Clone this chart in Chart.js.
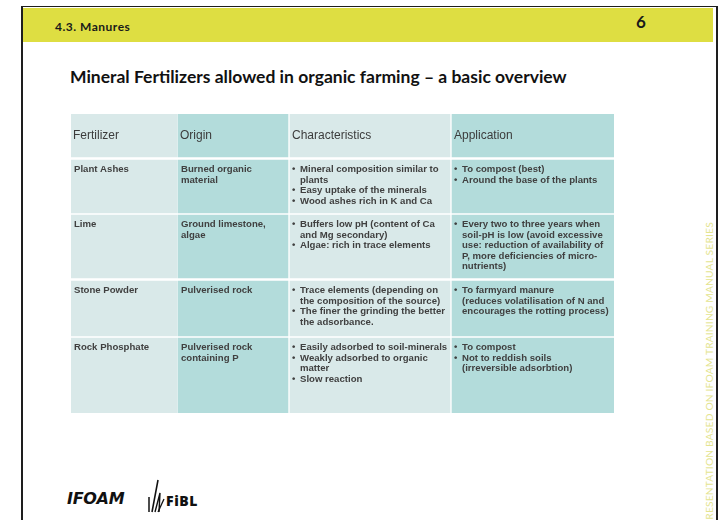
<!DOCTYPE html>
<html>
<head>
<meta charset="utf-8">
<script src="https://cdn.jsdelivr.net/npm/chart.js@4.4.1/dist/chart.umd.min.js"></script>
<style>
  body { margin: 0; width: 720px; height: 520px; background: #fff; position: relative; overflow: hidden; font-family: Lato, sans-serif; }
  .abs { position: absolute; }
  #frameLeft { left: 21px; top: 7px; width: 2px; height: 513px; background: #1e1e1e; }
  #frameTop { left: 21px; top: 6px; width: 697px; height: 1px; background: #1e1e1e; }
  #frameRight { left: 716px; top: 7px; width: 2px; height: 513px; background: #1e1e1e; }
  #band { left: 23px; top: 8px; width: 690px; height: 34px; background: #dede42; }
  #section { left: 55px; top: 19px; font-weight: 700; font-size: 12px; letter-spacing: 0.5px; color: #1a1a1a; }
  #pageNo { left: 636px; top: 11px; font-weight: 700; font-size: 17px; color: #1a1a1a; }
  #title { left: 70px; top: 66px; font-weight: 700; font-size: 17.5px; color: #111; white-space: nowrap; }
  #side { left: 703px; top: 526px; transform-origin: 0 0; transform: rotate(-90deg); font-size: 10.2px; letter-spacing: 0.2px; color: #e4e490; white-space: nowrap; line-height: 12px; }
  #ifoam { left: 67px; top: 489px; font-family: "DejaVu Sans", sans-serif; font-weight: 700; font-style: italic; font-size: 16px; letter-spacing: -0.3px; color: #111; }
  #fibl { left: 166px; top: 491px; font-family: "Open Sans", sans-serif; font-weight: 800; font-size: 14px; letter-spacing: 0.6px; color: #111; }
  #leaf { left: 147px; top: 479px; }
  #tableWrap { left: 71px; top: 114px; width: 543px; height: 299px; }
</style>
</head>
<body>
<div class="abs" id="band"></div>
<div class="abs" id="frameTop"></div>
<div class="abs" id="frameLeft"></div>
<div class="abs" id="frameRight"></div>
<div class="abs" id="section">4.3. Manures</div>
<div class="abs" id="pageNo">6</div>
<div class="abs" id="title">Mineral Fertilizers allowed in organic farming – a basic overview</div>
<div class="abs" id="side">PRESENTATION BASED ON IFOAM TRAINING MANUAL SERIES</div>
<div class="abs" id="ifoam">IFOAM</div>
<svg class="abs" id="leaf" width="18" height="34" viewBox="0 0 18 34">
  <path d="M2 33 L2 18" stroke="#111" stroke-width="1.5"/>
  <path d="M5 33 L11 1" stroke="#111" stroke-width="1.6"/>
  <path d="M8 33 L13 14 L12 33" stroke="#111" stroke-width="1.4" fill="none"/>
  <path d="M11 33 L17 20" stroke="#111" stroke-width="1.3"/>
</svg>
<div class="abs" id="fibl">FiBL</div>
<div class="abs" id="tableWrap"><canvas id="table" width="543" height="299"></canvas></div>

<script>
// Table content
const columns = ["Fertilizer", "Origin", "Characteristics", "Application"];
const fertilizers = ["Plant Ashes", "Lime", "Stone Powder", "Rock Phosphate"];
const origins = [
  ["Burned organic", "material"],
  ["Ground limestone,", "algae"],
  ["Pulverised rock"],
  ["Pulverised rock", "containing P"]
];
const characteristics = [
  [["Mineral composition similar to", "plants"], ["Easy uptake of the minerals"], ["Wood ashes rich in K and Ca"]],
  [["Buffers low pH (content of Ca", "and Mg secondary)"], ["Algae: rich in trace elements"]],
  [["Trace elements (depending on", "the composition of the source)"], ["The finer the grinding the better", "the adsorbance."]],
  [["Easily adsorbed to soil-minerals"], ["Weakly adsorbed to organic", "matter"], ["Slow reaction"]]
];
const applications = [
  [["To compost (best)"], ["Around the base of the plants"]],
  [["Every two to three years when", "soil-pH is low (avoid excessive", "use: reduction of availability of", "P, more deficiencies of micro-", "nutrients)"]],
  [["To farmyard manure", "(reduces volatilisation of N and", "encourages the rotting process)"]],
  [["To compost"], ["Not to reddish soils", "(irreversible adsorbtion)"]]
];

// layout of the grid (pixels inside the table area)
const colEdges = [[0, 106], [107, 217], [219, 379], [381, 543]];
const rowEdges = [[0, 43], [46, 99], [101, 164], [167, 222], [224, 299]];
const cellColors = ["#d9e9e9", "#b3dcdb", "#d9e9e9", "#b3dcdb"];

// cell contents per row: string list = plain lines, nested list = bullets
const rows = [columns.map(c => [c])];
fertilizers.forEach((f, i) => {
  rows.push([[f], origins[i], { bullets: characteristics[i] }, { bullets: applications[i] }]);
});

const datasets = rowEdges.map((r, ri) => ({
  label: ri === 0 ? "header" : fertilizers[ri - 1],
  data: colEdges.map(c => ({ x: [c[0], c[1]], y: (r[0] + r[1]) / 2 })),
  backgroundColor: cellColors,
  borderWidth: 0,
  barThickness: r[1] - r[0],
  grouped: false
}));

const cellText = {
  id: "cellText",
  afterDatasetsDraw(chart) {
    const ctx = chart.ctx;
    ctx.save();
    chart.data.datasets.forEach((ds, ri) => {
      chart.getDatasetMeta(ri).data.forEach((bar, ci) => {
        const left = Math.min(bar.x, bar.base);
        const top = bar.y - bar.height / 2;
        const content = rows[ri][ci];
        ctx.textAlign = "left";
        if (ri === 0) {
          ctx.font = "12px 'Liberation Sans'";
          ctx.fillStyle = "#3c3c3c";
          ctx.textBaseline = "middle";
          ctx.fillText(content[0], left + 2, bar.y);
          return;
        }
        ctx.font = "bold 9.6px 'Liberation Sans'";
        ctx.fillStyle = "#404040";
        ctx.textBaseline = "alphabetic";
        const lh = 10.5;
        let yy = top + 12;
        if (Array.isArray(content)) {
          content.forEach(line => { ctx.fillText(line, left + 3, yy); yy += lh; });
        } else {
          content.bullets.forEach(b => {
            ctx.fillText("•", left + 2, yy);
            b.forEach(line => { ctx.fillText(line, left + 10, yy); yy += lh; });
          });
        }
      });
    });
    ctx.restore();
  }
};

new Chart(document.getElementById("table"), {
  type: "bar",
  data: { labels: [], datasets: datasets },
  options: {
    indexAxis: "y",
    responsive: false,
    animation: false,
    events: [],
    layout: { padding: 0 },
    scales: {
      x: { type: "linear", min: 0, max: 543, display: false, offset: false },
      y: { type: "linear", min: 0, max: 299, reverse: true, display: false, offset: false }
    },
    plugins: { legend: { display: false }, tooltip: { enabled: false } }
  },
  plugins: [cellText]
});
</script>
</body>
</html>
